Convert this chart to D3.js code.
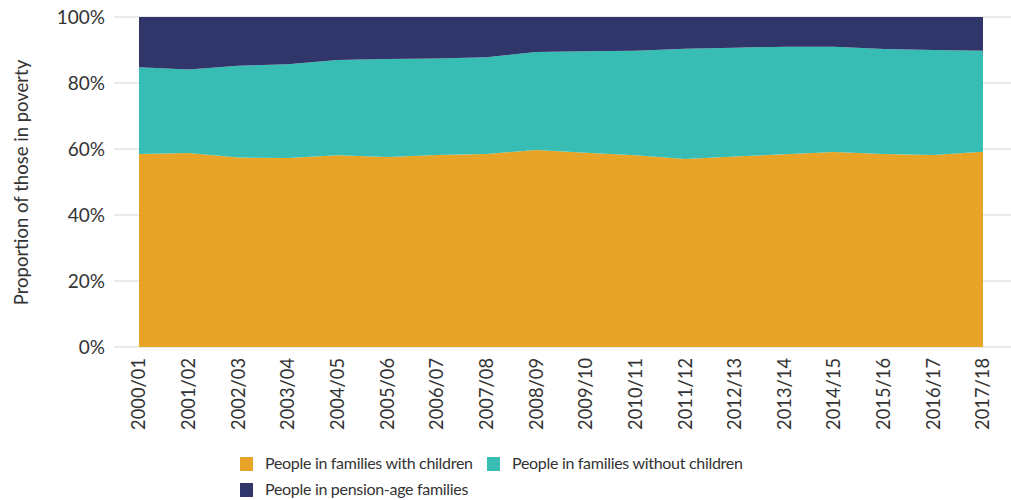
<!DOCTYPE html>
<html><head><meta charset="utf-8">
<script src="https://cdn.jsdelivr.net/npm/d3@7"></script>
<style>body{margin:0;background:#fff}svg{display:block}text{font-family:Lato,sans-serif;fill:#333}</style>
</head><body><svg id="c" width="1011" height="500"></svg>
<script>
const years = ["2000/01","2001/02","2002/03","2003/04","2004/05","2005/06","2006/07","2007/08","2008/09","2009/10","2010/11","2011/12","2012/13","2013/14","2014/15","2015/16","2016/17","2017/18"];
const withChildren    = [58.5,58.8,57.4,57.3,58.1,57.6,58.2,58.5,59.7,58.9,58.1,57.0,57.7,58.4,59.1,58.5,58.2,59.2];
const withoutChildren = [26.3,25.3,27.8,28.4,28.9,29.7,29.2,29.3,29.7,30.7,31.7,33.4,33.0,32.6,31.9,31.8,31.8,30.6];
const pensionAge      = [15.2,15.9,14.8,14.3,13.0,12.7,12.6,12.2,10.6,10.4,10.2,9.6,9.3,9.0,9.0,9.7,10.0,10.2];
const yTicks = [0,20,40,60,80,100];
const seriesNames = ["People in families with children","People in families without children","People in pension-age families"];
const colors = ["#E8A427","#38BDB4","#31366A"];

const svg = d3.select("#c");
const L=139,R=983,T=17,B=347;
const x = d3.scalePoint().domain(years).range([L,R]);
const y = d3.scaleLinear().domain([0,100]).range([B,T]);

svg.append("g").selectAll("line").data(yTicks).join("line")
  .attr("x1",114).attr("x2",1011).attr("y1",d=>y(d)).attr("y2",d=>y(d))
  .attr("stroke","#e3e3e3").attr("stroke-width",1.5);

const rows = years.map((yr,i)=>({yr,a:withChildren[i],b:withoutChildren[i],c:pensionAge[i]}));
const layers = d3.stack().keys(["a","b","c"])(rows);
const area = d3.area().x(d=>x(d.data.yr)).y0(d=>y(d[0])).y1(d=>y(Math.min(100,d[1])));
svg.append("g").selectAll("path").data(layers).join("path")
  .attr("d",area).attr("fill",(d,i)=>colors[i]);

svg.append("g").selectAll("text").data(yTicks).join("text")
  .attr("x",105).attr("y",d=>y(d)).attr("dy","0.35em").attr("text-anchor","end")
  .attr("font-size",19).text(d=>d+"%");

svg.append("g").selectAll("text").data(years).join("text")
  .attr("transform",d=>`translate(${x(d)},358) rotate(-90)`)
  .attr("dy","0.35em").attr("text-anchor","end").attr("font-size",18.3).text(d=>d);

svg.append("text").attr("transform","translate(22,182.5) rotate(-90)")
  .attr("text-anchor","middle").attr("dy","0.35em").attr("font-size",18.5)
  .text("Proportion of those in poverty");

const leg = [{x:240,y:457},{x:487,y:457},{x:240,y:483}];
const lg = svg.append("g");
seriesNames.forEach((n,i)=>{
  lg.append("rect").attr("x",leg[i].x).attr("y",leg[i].y).attr("width",13).attr("height",14).attr("fill",colors[i]);
  lg.append("text").attr("x",leg[i].x+25).attr("y",leg[i].y+12).attr("font-size",16)
    .attr("letter-spacing","-0.3px").text(n);
});
</script></body></html>
